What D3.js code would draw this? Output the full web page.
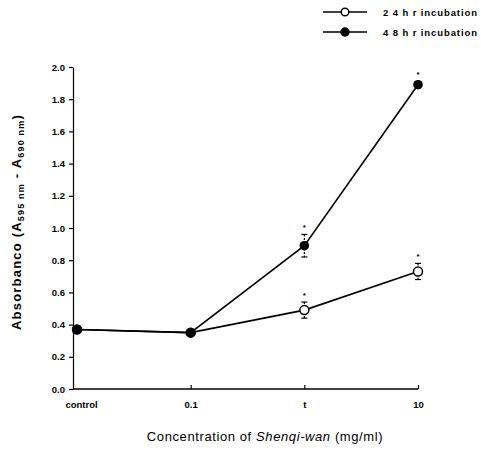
<!DOCTYPE html>
<html><head><meta charset="utf-8">
<script src="https://cdn.jsdelivr.net/npm/d3@7"></script>
<style>body{margin:0;background:#fff}svg{display:block}</style>
</head><body>
<svg id="c" width="481" height="456"></svg>
<script>
const categories = ["control", "0.1", "t", "10"];
const series24 = [0.37, 0.35, 0.49, 0.73];
const err24 = [0, 0, 0.05, 0.05];
const series48 = [0.37, 0.35, 0.89, 1.89];
const err48 = [0, 0, 0.07, 0.02];
const sig = [false, false, true, true];
const yTicks = [0.0, 0.2, 0.4, 0.6, 0.8, 1.0, 1.2, 1.4, 1.6, 1.8, 2.0];
const legendLabels = ["2 4 h r incubation", "4 8 h r incubation"];

const svg = d3.select("#c");
const font = "Arial, 'Liberation Sans', sans-serif";
const y = d3.scaleLinear().domain([0, 2]).range([389, 67]);
const x = d3.scalePoint().domain(categories).range([77, 418]);

// Y axis
const yAxis = d3.axisLeft(y).tickValues(yTicks).tickFormat(d3.format(".1f")).tickSize(4).tickSizeOuter(0);
const gy = svg.append("g").attr("transform", "translate(73,0)").call(yAxis);
gy.select(".domain").attr("stroke", "#000").attr("stroke-width", 1.2);
gy.selectAll(".tick line").attr("stroke", "#000").attr("stroke-width", 1.2);
gy.selectAll(".tick text").attr("font-family", font).attr("font-size", 9.5).attr("font-weight", "bold").attr("x", -8).attr("fill", "#000");

// X axis
const xAxis = d3.axisBottom(x).tickSize(-4).tickSizeOuter(0).tickPadding(10);
const gx = svg.append("g").attr("transform", "translate(0,389)").call(xAxis);
gx.select(".domain").attr("d", "M73,0H418").attr("stroke", "#000").attr("stroke-width", 1.5);
gx.selectAll(".tick line").attr("stroke", "#000").attr("stroke-width", 1.2).filter((d,i)=>i===0).remove();
gx.selectAll(".tick text").attr("font-family", font).attr("font-size", 9.5).attr("font-weight", "bold").attr("fill", "#000").attr("dy", "0.9em");
gx.selectAll(".tick").filter((d,i)=>i===0).select("text").attr("dx", 4);

const line = d3.line().x((d,i)=>x(categories[i])).y(d=>y(d));
svg.append("path").datum(series24).attr("d", line).attr("fill", "none").attr("stroke", "#000").attr("stroke-width", 1.6);
svg.append("path").datum(series48).attr("d", line).attr("fill", "none").attr("stroke", "#000").attr("stroke-width", 1.6);

function errBars(vals, errs) {
  vals.forEach((v, i) => {
    if (!errs[i]) return;
    const cx = x(categories[i]);
    const g = svg.append("g").attr("stroke", "#000").attr("stroke-width", 1.2);
    g.append("line").attr("x1", cx).attr("x2", cx).attr("y1", y(v + errs[i])).attr("y2", y(v - errs[i])).attr("stroke-dasharray", "2,1.5");
    g.append("line").attr("x1", cx - 3).attr("x2", cx + 3).attr("y1", y(v + errs[i])).attr("y2", y(v + errs[i]));
    g.append("line").attr("x1", cx - 3).attr("x2", cx + 3).attr("y1", y(v - errs[i])).attr("y2", y(v - errs[i]));
  });
}
errBars(series24, err24);
errBars(series48, err48);

svg.selectAll(".p24").data(series24).join("circle")
  .attr("cx", (d,i)=>x(categories[i])).attr("cy", d=>y(d)).attr("r", 4.5)
  .attr("fill", "#fff").attr("stroke", "#000").attr("stroke-width", 1.5);
svg.selectAll(".p48").data(series48).join("circle")
  .attr("cx", (d,i)=>x(categories[i])).attr("cy", d=>y(d)).attr("r", 4.8)
  .attr("fill", "#000");

// significance stars
[[series24, err24], [series48, err48]].forEach(([vals, errs]) => {
  vals.forEach((v, i) => {
    if (!sig[i]) return;
    svg.append("text").attr("x", x(categories[i])).attr("y", y(v + errs[i]) - 4)
      .attr("text-anchor", "middle").attr("font-family", font).attr("font-size", 8).attr("font-weight", "bold").text("*");
  });
});

// Y title
const yt = svg.append("text").attr("transform", "translate(21,222) rotate(-90)")
  .attr("text-anchor", "middle").attr("font-family", font).attr("font-size", 13).attr("font-weight", "bold")
  .attr("letter-spacing", 1.2).attr("fill", "#000");
yt.append("tspan").text("Absorbanco (A");
yt.append("tspan").attr("font-size", 9).attr("dy", 3).text("595 nm");
yt.append("tspan").attr("dy", -3).text(" - A");
yt.append("tspan").attr("font-size", 9).attr("dy", 3).text("690 nm");
yt.append("tspan").attr("dy", -3).text(")");

// X title
const xt = svg.append("text").attr("x", 265).attr("y", 441).attr("text-anchor", "middle")
  .attr("font-family", font).attr("font-size", 13).attr("letter-spacing", 0.6).attr("fill", "#000");
xt.append("tspan").text("Concentration of ");
xt.append("tspan").attr("font-style", "italic").text("Shenqi-wan");
xt.append("tspan").text(" (mg/ml)");

// Legend
legendLabels.forEach((lab, i) => {
  const ly = 12 + i * 20;
  const g = svg.append("g");
  g.append("line").attr("x1", 323).attr("x2", 367).attr("y1", ly).attr("y2", ly).attr("stroke", "#000").attr("stroke-width", 1.6);
  g.append("circle").attr("cx", 345).attr("cy", ly).attr("r", i === 0 ? 3.8 : 4)
    .attr("fill", i === 0 ? "#fff" : "#000").attr("stroke", "#000").attr("stroke-width", 1.4);
  g.append("text").attr("x", 383).attr("y", ly + 3.5).attr("font-family", font).attr("font-size", 9.5)
    .attr("font-weight", "bold").attr("letter-spacing", 0.9).attr("fill", "#000").text(lab);
});
</script>
</body></html>
